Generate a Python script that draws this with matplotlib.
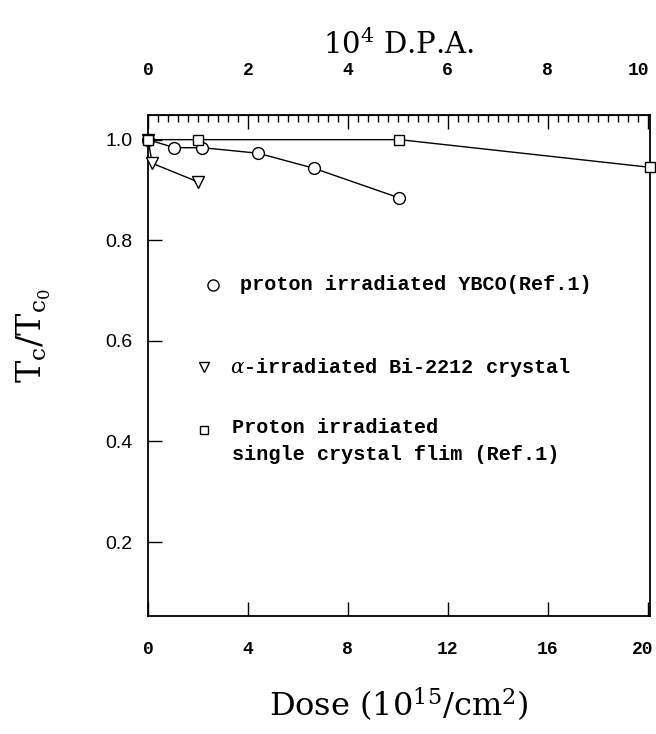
import matplotlib
matplotlib.use("Agg")
import matplotlib.pyplot as plt
import matplotlib.transforms as mtransforms
from matplotlib.ticker import MultipleLocator

plt.rcParams['mathtext.fontset'] = 'dejavuserif'

# dose in 10^15 / cm^2
ybco_x = [0.0, 1.06, 2.18, 4.41, 6.65, 10.07]
ybco_y = [1.0, 0.984, 0.984, 0.973, 0.943, 0.884]

bi_x = [0.0, 0.17, 2.0]
bi_y = [1.0, 0.953, 0.916]

film_x = [0.0, 2.0, 10.07, 20.1]
film_y = [1.0, 1.0, 1.0, 0.945]

labels = ["proton irradiated YBCO(Ref.1)",
          r"$\alpha$-irradiated Bi-2212 crystal",
          "Proton irradiated\nsingle crystal flim (Ref.1)"]

mono = "Liberation Mono"
serif = "DejaVu Serif"

fig = plt.figure(figsize=(6.56, 7.34), dpi=100)
ax = fig.add_axes([148/656, 1-616/734, 502/656, 501/734])

kw = dict(color='black', lw=1.0, mfc='white', mec='black', mew=1.0, clip_on=False, zorder=3)
ax.plot(ybco_x, ybco_y, marker='o', ms=8.5, **kw)
ax.plot(bi_x, bi_y, marker='v', ms=8.5, **kw)
ax.plot(film_x, film_y, marker='s', ms=7, **kw)

ax.set_xlim(0, 20.1)
ax.set_ylim(0.053, 1.049)

ax.set_xticks([0, 4, 8, 12, 16, 20])
ax.set_yticks([0.2, 0.4, 0.6, 0.8, 1.0])
ax.tick_params(axis='x', direction='in', length=10, width=1, pad=18, labelsize=13)
ax.tick_params(axis='y', direction='in', length=10, width=1, pad=11, labelsize=14)
for t in ax.get_xticklabels():
    t.set_fontfamily(mono)
    t.set_fontweight('bold')
for t in ax.get_yticklabels():
    t.set_fontfamily('Liberation Sans')
for s in ax.spines.values():
    s.set_linewidth(1.3)
xl = ax.get_xticklabels()
xl[-1].set_transform(xl[-1].get_transform() + mtransforms.ScaledTranslation(-5/100, 0, fig.dpi_scale_trans))

# top axis: D.P.A.
top = ax.secondary_xaxis('top', functions=(lambda d: d / 2.0, lambda p: p * 2.0))
top.xaxis.set_major_locator(MultipleLocator(2))
top.xaxis.set_minor_locator(MultipleLocator(0.2))
top.tick_params(which='major', direction='in', length=10, width=1, pad=26, labelsize=13)
top.tick_params(which='minor', direction='in', length=5, width=1)
fig.canvas.draw()
tl = top.xaxis.get_majorticklabels()
for t in tl:
    t.set_fontfamily(mono)
    t.set_fontweight('bold')
top.set_xlabel(r"$\mathrm{10^{4}}$ D.P.A.", fontsize=21, fontfamily=serif, labelpad=6)
ticks_top = top.get_xticks()
for t, v in zip(tl, ticks_top):
    if abs(v - 10) < 1e-6:
        t.set_transform(t.get_transform() + mtransforms.ScaledTranslation(-9/100, 0, fig.dpi_scale_trans))

ax.set_xlabel(r"Dose $\mathrm{(10^{15}/cm^{2})}$", fontsize=23, fontfamily=serif, labelpad=20)
ax.set_ylabel(r"$\mathrm{T_c/T_{c_0}}$", fontsize=24, fontfamily=serif)
ax.yaxis.set_label_coords(-0.19, 0.56)

# legend keys and texts
keys = [('o', 8, 0.129, 0.661, 0.183), ('v', 7, 0.112, 0.497, 0.163), ('s', 6, 0.112, 0.372, 0.168)]
for (m, ms, kx, ky, tx), lab in zip(keys, labels):
    ax.plot([kx], [ky], marker=m, ms=ms, mfc='white', mec='black', mew=1.0,
            transform=ax.transAxes, linestyle='none')
    two = '\n' in lab
    ax.text(tx, ky + (0.024 if two else 0), lab, transform=ax.transAxes, fontsize=14.5,
            fontfamily=mono, fontweight='bold', va='top' if two else 'center',
            linespacing=1.55)

fig.savefig("out.png", dpi=100)
